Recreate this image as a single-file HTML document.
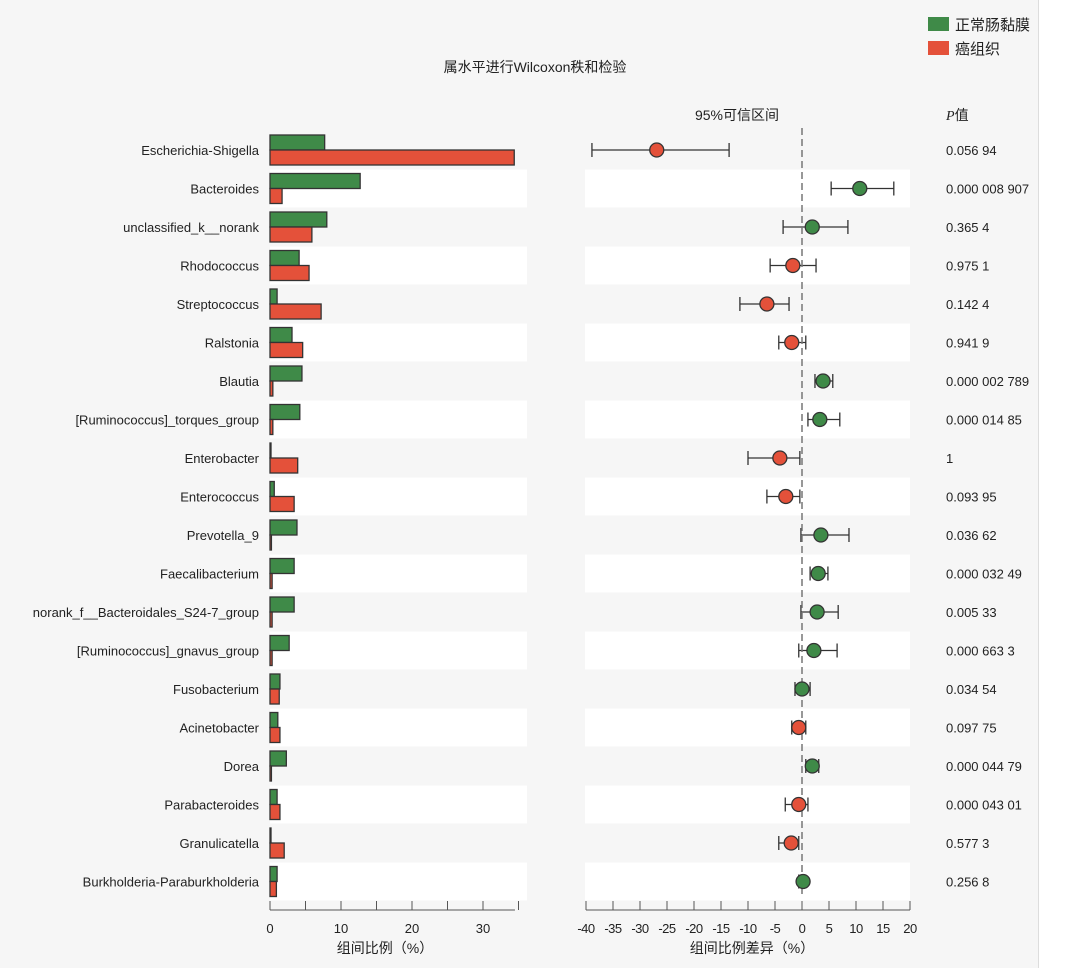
<!DOCTYPE html>
<html><head><meta charset="utf-8">
<style>
body{margin:0;background:#fff;}
svg{display:block;font-family:"Liberation Sans","Noto Sans CJK SC",sans-serif;}
</style></head>
<body>
<svg id="chart" width="1080" height="968" xmlns="http://www.w3.org/2000/svg">
<rect x="0" y="0" width="1039" height="968" fill="#f6f6f6"/>
<rect x="1039" y="0" width="41" height="968" fill="#fff"/>
<line x1="1038.5" y1="0" x2="1038.5" y2="968" stroke="#ddd"/>
<text x="535" y="72" font-size="14" text-anchor="middle" fill="#222">属水平进行Wilcoxon秩和检验</text>
<g>
<rect x="928" y="17" width="21" height="14" fill="#3f8a48"/>
<text x="955" y="30" font-size="15" fill="#222">正常肠黏膜</text>
<rect x="928" y="41" width="21" height="14" fill="#e4513a"/>
<text x="955" y="54" font-size="15" fill="#222">癌组织</text>
</g>
<text x="737" y="120" font-size="14" text-anchor="middle" fill="#222">95%可信区间</text>
<text x="946" y="120" font-size="14" fill="#222"><tspan font-style="italic" font-family="Liberation Serif, serif">P</tspan>值</text>
<g id="rows"></g>
<g id="axes"></g>
</svg>
<script>
const genera=["Escherichia-Shigella","Bacteroides","unclassified_k__norank","Rhodococcus","Streptococcus","Ralstonia","Blautia","[Ruminococcus]_torques_group","Enterobacter","Enterococcus","Prevotella_9","Faecalibacterium","norank_f__Bacteroidales_S24-7_group","[Ruminococcus]_gnavus_group","Fusobacterium","Acinetobacter","Dorea","Parabacteroides","Granulicatella","Burkholderia-Paraburkholderia"];
const normalPct=[7.7,12.7,8.0,4.1,1.0,3.1,4.5,4.2,0.1,0.6,3.8,3.4,3.4,2.7,1.4,1.1,2.3,1.0,0.1,1.0];
const cancerPct=[34.4,1.7,5.9,5.5,7.2,4.6,0.4,0.4,3.9,3.4,0.2,0.3,0.3,0.3,1.3,1.4,0.2,1.4,2.0,0.9];
const diff=[-26.9,10.7,1.9,-1.7,-6.5,-1.9,3.9,3.3,-4.1,-3.0,3.5,3.0,2.8,2.2,0.0,-0.6,1.9,-0.6,-2.0,0.2];
const ciLow=[-38.9,5.4,-3.5,-5.9,-11.5,-4.3,2.4,1.1,-10.0,-6.5,-0.2,1.5,-0.2,-0.6,-1.3,-1.9,0.7,-3.1,-4.3,-0.6];
const ciHigh=[-13.5,17.0,8.5,2.6,-2.4,0.7,5.7,7.0,-0.4,-0.4,8.7,4.8,6.7,6.5,1.5,0.7,3.1,1.1,-0.6,0.7];
const pvals=["0.056 94","0.000 008 907","0.365 4","0.975 1","0.142 4","0.941 9","0.000 002 789","0.000 014 85","1","0.093 95","0.036 62","0.000 032 49","0.005 33","0.000 663 3","0.034 54","0.097 75","0.000 044 79","0.000 043 01","0.577 3","0.256 8"];
const leftTicks=[0,10,20,30];
const leftMinor=[0,5,10,15,20,25,30,35];
const rightTicks=[-40,-35,-30,-25,-20,-15,-10,-5,0,5,10,15,20];

const NS="http://www.w3.org/2000/svg";
const xL=v=>270+v*7.1;
const xR=v=>802+v*5.4;
const yRow=i=>150+i*38.5;
const GREEN="#3f8a48",RED="#e4513a",EDGE="#333";
function mk(tag,attrs,parent){const e=document.createElementNS(NS,tag);for(const k in attrs)e.setAttribute(k,attrs[k]);parent.appendChild(e);return e;}
const rows=document.getElementById('rows');
const axes=document.getElementById('axes');

genera.forEach((g,i)=>{
  const y=yRow(i);
  if(i%2===1){
    const b1=mk('rect',{x:270,y:y-19,width:257,height:38,fill:"#fff"},rows);
    
    
    const b2=mk('rect',{x:585,y:y-19,width:325,height:38,fill:"#fff"},rows);
    
    
  }
  const t=mk('text',{x:259,y:y+5,"font-size":13,"text-anchor":"end",fill:"#222"},rows);
  t.textContent=g;
  
  
  const gb=mk('rect',{x:270,y:y-15,width:Math.max(1,xL(normalPct[i])-270),height:15,fill:GREEN,stroke:EDGE,"stroke-width":1.3},rows);
  
  
  const rb=mk('rect',{x:270,y:y,width:Math.max(1,xL(cancerPct[i])-270),height:15,fill:RED,stroke:EDGE,"stroke-width":1.3},rows);
  
  
  const l=mk('line',{x1:xR(ciLow[i]),x2:xR(ciHigh[i]),y1:y,y2:y,stroke:"#333","stroke-width":1.3},rows);
  
  
  [ciLow[i],ciHigh[i]].forEach(v=>{
    const c=mk('line',{x1:xR(v),x2:xR(v),y1:y-7,y2:y+7,stroke:"#333","stroke-width":1.3},rows);
    
    
  });
  const p=mk('text',{x:946,y:y+5,"font-size":13,fill:"#222"},rows);
  p.textContent=pvals[i];
  
  
});
// dashed zero line
const dz=mk('line',{x1:xR(0),x2:xR(0),y1:128,y2:898,stroke:"#777","stroke-width":1.5,"stroke-dasharray":"7,4"},rows);


genera.forEach((g,i)=>{
  const c=mk('circle',{cx:xR(diff[i]),cy:yRow(i),r:7,fill:diff[i]<0?RED:GREEN,stroke:"#333","stroke-width":1.3},rows);
  
  
});
// left axis
const ay=910;
const la=mk('line',{x1:xL(0),x2:xL(34.5),y1:ay,y2:ay,stroke:"#555"},axes);


leftMinor.forEach(v=>{
  const k=mk('line',{x1:xL(v),x2:xL(v),y1:ay-9,y2:ay,stroke:"#555"},axes);
  
  
});
leftTicks.forEach(v=>{
  const t=mk('text',{x:xL(v),y:ay+23,"font-size":13,"text-anchor":"middle",fill:"#222"},axes);
  t.textContent=v;
  
  
});
const ra=mk('line',{x1:xR(-40),x2:xR(20),y1:ay,y2:ay,stroke:"#555"},axes);


rightTicks.forEach(v=>{
  const k=mk('line',{x1:xR(v),x2:xR(v),y1:ay-9,y2:ay,stroke:"#555"},axes);
  
  
  const t=mk('text',{x:xR(v),y:ay+23,"font-size":13,"text-anchor":"middle",fill:"#222","letter-spacing":"-0.5"},axes);
  t.textContent=v;
  
  
});
const xt1=mk('text',{x:385,y:953,"font-size":14,"text-anchor":"middle",fill:"#222"},axes);
xt1.textContent="组间比例（%）";


const xt2=mk('text',{x:752,y:953,"font-size":14,"text-anchor":"middle",fill:"#222"},axes);
xt2.textContent="组间比例差异（%）";


</script>
</body></html>
